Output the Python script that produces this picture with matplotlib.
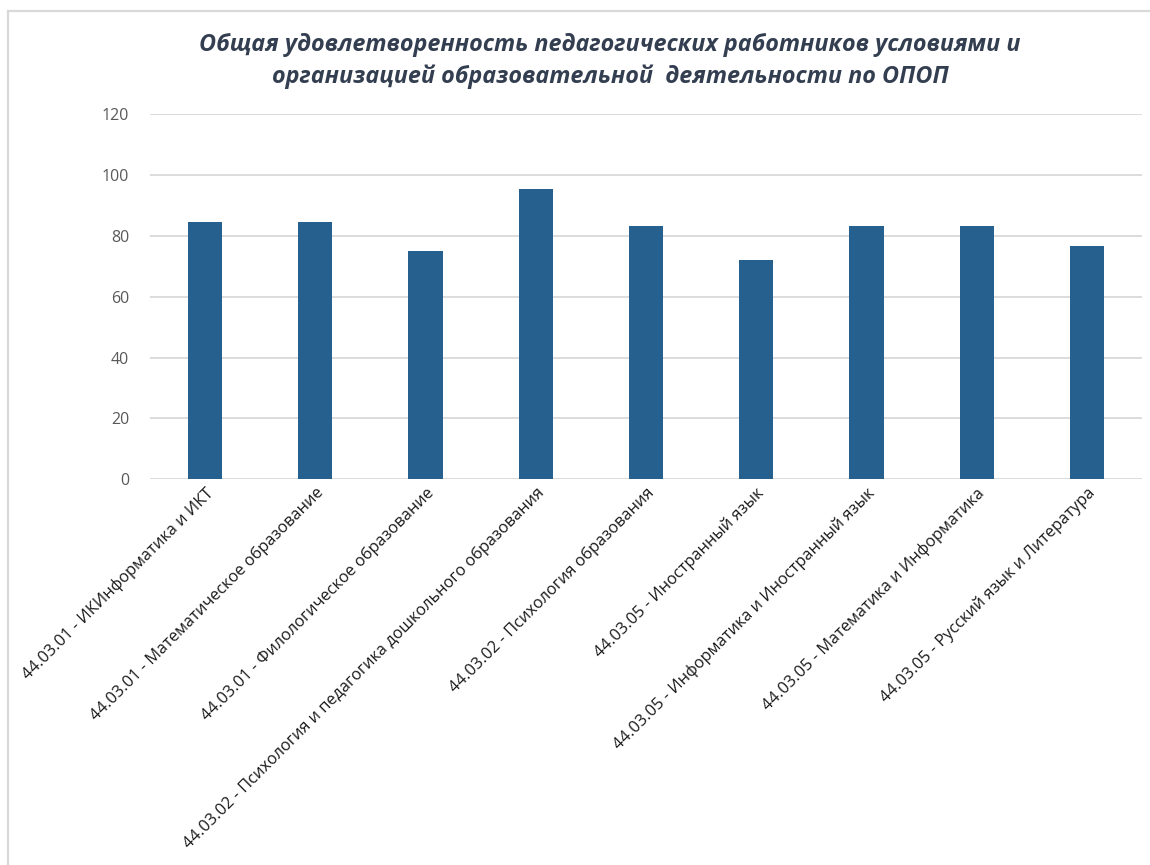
import matplotlib.pyplot as plt
import matplotlib.lines as mlines

categories = [
    '44.03.01 - ИКИнформатика и ИКТ',
    '44.03.01 - Математическое образование',
    '44.03.01 - Филологическое образование',
    '44.03.02 - Психология и педагогика дошкольного образования',
    '44.03.02 - Психология образования',
    '44.03.05 - Иностранный язык',
    '44.03.05 - Информатика и Иностранный язык',
    '44.03.05 - Математика и Информатика',
    '44.03.05 - Русский язык и Литература',
]
values = [84.4, 84.4, 75.0, 95.5, 83.3, 72.2, 83.3, 83.3, 76.7]
yticks = [0, 20, 40, 60, 80, 100, 120]

title = ('Общая удовлетворенность педагогических работников условиями и\n'
         'организацией образовательной  деятельности по ОПОП')

W, H = 1150, 865
fig = plt.figure(figsize=(W / 100, H / 100), dpi=100)
ax = fig.add_axes([150 / W, 1 - 479.3 / H, (1142 - 150) / W, (479.3 - 114) / H])

x = range(len(categories))
ax.bar(x, values, width=0.31, color='#26608f', zorder=3)

ax.set_xlim(-0.5, len(categories) - 0.5)
ax.set_ylim(0, 120)
ax.set_yticks(yticks)
ax.set_yticklabels([str(t) for t in yticks], fontsize=11.5, color='#595959', family='Open Sans')
ax.tick_params(axis='y', length=0, pad=15)
ax.tick_params(axis='x', length=0, pad=4)
ax.grid(axis='y', color='#d9d9d9', linewidth=1.3, zorder=0)
for s in ax.spines.values():
    s.set_visible(False)

ax.set_xticks(list(x))
ax.set_xticklabels(categories, rotation=45, ha='right', rotation_mode='anchor',
                   fontsize=11.8, color='#1a1a1a', family='Open Sans')

fig.text(610 / W, 1 - 61 / H, title, ha='center', va='center', fontsize=16.8,
         fontweight='bold', fontstyle='italic', color='#333f50',
         family='Open Sans', linespacing=1.45)

# chart area border (top and left visible)
fig.add_artist(mlines.Line2D([7.5 / W, 7.5 / W], [0, 1 - 11 / H], transform=fig.transFigure,
                             color='#d9d9d9', linewidth=1.6))
fig.add_artist(mlines.Line2D([7.5 / W, 1], [1 - 11 / H, 1 - 11 / H], transform=fig.transFigure,
                             color='#d9d9d9', linewidth=1.6))

fig.savefig('out.png', dpi=100, facecolor='white')
